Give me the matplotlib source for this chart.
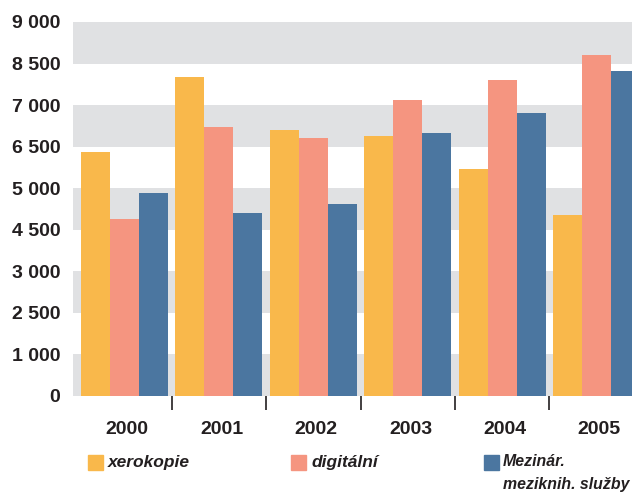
import matplotlib
matplotlib.use("Agg")
import matplotlib.pyplot as plt
from matplotlib.patches import Rectangle
from matplotlib import font_manager
import numpy as np

years = ["2000", "2001", "2002", "2003", "2004", "2005"]
xerokopie = [5870, 7680, 6400, 6260, 5460, 4360]
digitalni = [4260, 6470, 6210, 7120, 7600, 8200]
mezinar = [4880, 4400, 4620, 6330, 6810, 7820]
series_names = ["xerokopie", "digitální", "Mezinár.\nmeziknih. služby"]
ytick_vals = [0, 1000, 2000, 3000, 4000, 5000, 6000, 7000, 8000, 9000]
ytick_labels = ["0", "1 000", "2 500", "3 000", "4 500", "5 000", "6 500", "7 000", "8 500", "9 000"]

colors = ["#F9B84B", "#F59580", "#4B76A0"]
band = "#E0E1E3"
txt = "#231F20"

avail = {f.name for f in font_manager.fontManager.ttflist}
fam = "Liberation Sans Narrow" if "Liberation Sans Narrow" in avail else "Liberation Sans"
plt.rcParams["font.family"] = [fam, "DejaVu Sans"]

fig = plt.figure(figsize=(6.32, 4.95), dpi=100)
ax = fig.add_axes([73/632, 99/495, 1 - 73/632, 374/495])

x = np.arange(len(years))
w = 0.307
for k, (vals, c) in enumerate(zip([xerokopie, digitalni, mezinar], colors)):
    ax.bar(x + (k - 1) * w, vals, width=w, color=c, zorder=2, linewidth=0)

for lo in range(0, 9000, 2000):
    ax.axhspan(lo, lo + 1000, color=band, zorder=0, linewidth=0)

ax.set_ylim(0, 9000)
ax.set_xlim(-0.5455, 5.376)
for s in ax.spines.values():
    s.set_visible(False)

ax.set_yticks(ytick_vals)
ax.set_yticklabels(ytick_labels, fontsize=14, color=txt, fontweight="bold")
ax.tick_params(axis="y", length=0, pad=9)

ax.set_xticks(x + 0.03)
ax.set_xticklabels(years, fontsize=14, color=txt, fontweight="bold")
ax.tick_params(axis="x", which="major", length=0, pad=18)
ax.set_xticks(x[:-1] + 0.5, minor=True)
ax.tick_params(axis="x", which="minor", length=10, width=1.2, color=txt)

# legend
leg_x = [88, 291, 484]
for lx, name, c in zip(leg_x, series_names, colors):
    fig.patches.append(Rectangle((lx/632, (495-470)/495), 15/632, 15/495,
                                 transform=fig.transFigure, color=c, figure=fig))
    if "\n" in name:
        fig.text((lx + 19)/632, (495-454)/495, name, fontsize=11.4, style="italic",
                 fontweight="bold", color=txt, va="top", ha="left", linespacing=1.7)
    else:
        fig.text((lx + 20)/632, (495-462.5)/495, name, fontsize=12.5, style="italic",
                 fontweight="bold", color=txt, va="center", ha="left")

fig.savefig("out.png", dpi=100)
